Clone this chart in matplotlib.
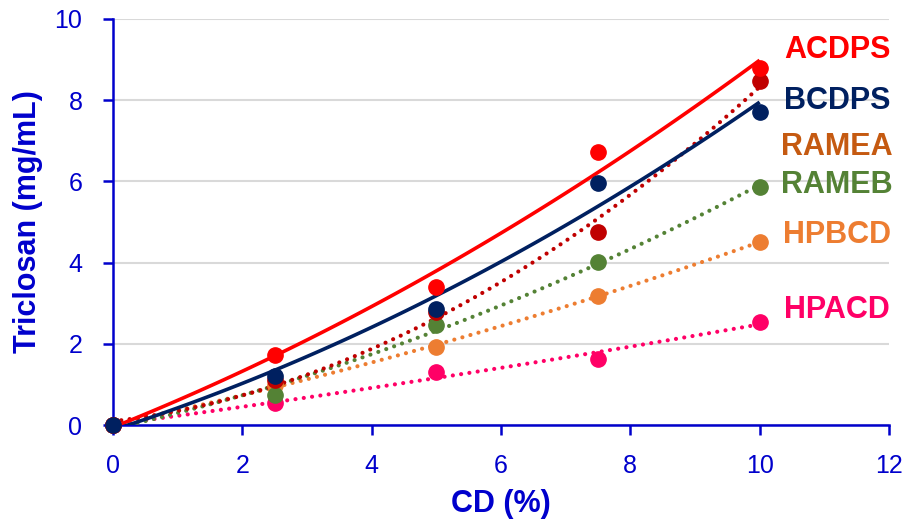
import numpy as np
import matplotlib
matplotlib.use("Agg")
import matplotlib.pyplot as plt

plt.rcParams['font.family'] = ['Liberation Sans', 'DejaVu Sans']

# CD concentration (%)
cd = [0, 2.5, 5, 7.5, 10]

# Triclosan solubility (mg/mL)
acdps = [0, 1.72, 3.41, 6.72, 8.80]
bcdps = [0, 1.21, 2.86, 5.96, 7.72]
ramea = [0, 1.10, 2.79, 4.75, 8.47]
rameb = [0, 0.74, 2.46, 4.01, 5.87]
hpbcd = [0, 0.98, 1.93, 3.18, 4.51]
hpacd = [0, 0.54, 1.30, 1.63, 2.54]

names = ['ACDPS', 'BCDPS', 'RAMEA', 'RAMEB', 'HPBCD', 'HPACD']
label_y = [9.24, 7.98, 6.85, 5.91, 4.68, 2.83]

blue = '#0000CC'
# series: (values, marker colour, line colour, label colour, solid?)
series = {
    'HPACD': (hpacd, '#FF0066', '#FF0066', '#FF0066', False),
    'HPBCD': (hpbcd, '#ED7D31', '#ED7D31', '#ED7D31', False),
    'RAMEB': (rameb, '#548235', '#548235', '#548235', False),
    'RAMEA': (ramea, '#C00000', '#C00000', '#C55A11', False),
    'ACDPS': (acdps, '#FF0000', '#FF0000', '#FF0000', True),
    'BCDPS': (bcdps, '#002060', '#002060', '#002060', True),
}

fig = plt.figure(figsize=(9.06, 5.32), dpi=100)
ax = fig.add_axes([0.1247, 0.2011, 0.8565, 0.7632])

xs = np.linspace(0, 10, 100)
for name, (vals, mc, lc, tc, solid) in series.items():
    # 2nd order polynomial trendline like Excel
    coef = np.polyfit(cd, vals, 2)
    fit = np.polyval(coef, xs)
    if solid:
        ax.plot(xs, fit, color=lc, lw=2.6, zorder=3, solid_capstyle='butt')
    else:
        ax.plot(xs, fit, color=lc, lw=3.0, linestyle=(0, (0.01, 2.0)),
                dash_capstyle='round', zorder=3)
    ax.plot(cd, vals, 'o', color=mc, markersize=11, zorder=4, clip_on=False)

for name, ly in zip(names, label_y):
    ax.text(11.2, ly, name, color=series[name][3], fontsize=22,
            fontweight='bold', ha='center', va='center')

ax.set_xlim(0, 12)
ax.set_ylim(0, 10)
ax.set_xticks(range(0, 13, 2))
ax.set_yticks(range(0, 11, 2))
ax.yaxis.grid(True, color='#D9D9D9', lw=1.5)
ax.set_axisbelow(True)

for s in ['top', 'right']:
    ax.spines[s].set_visible(False)
for s in ['left', 'bottom']:
    ax.spines[s].set_color(blue)
    ax.spines[s].set_linewidth(1.8)

ax.tick_params(axis='both', colors=blue, labelsize=18, length=7, width=1.8,
               direction='out')
ax.tick_params(axis='x', pad=14)
ax.tick_params(axis='y', pad=15)

ax.set_xlabel('CD (%)', fontsize=22, fontweight='bold', color=blue, labelpad=8)
ax.set_ylabel('Triclosan (mg/mL)', fontsize=22, fontweight='bold', color=blue,
              labelpad=8)

fig.savefig('out.png', dpi=100)
